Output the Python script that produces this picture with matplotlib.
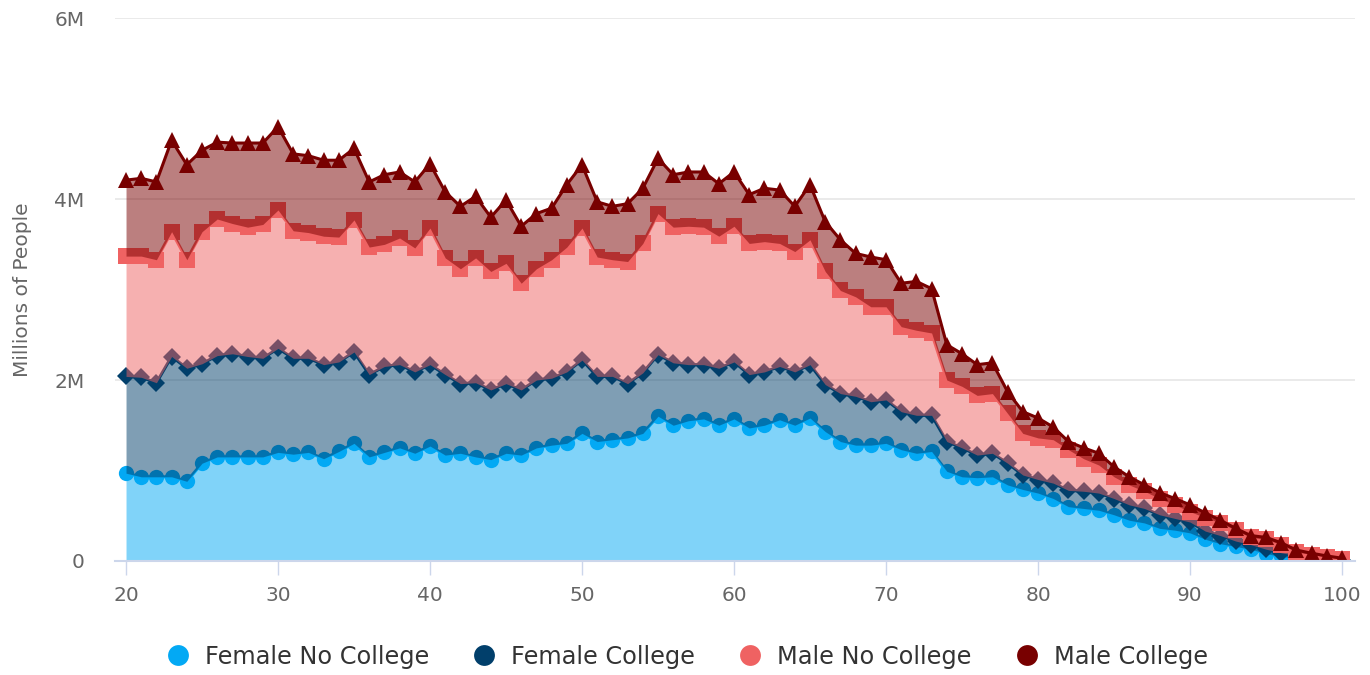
import numpy as np
import matplotlib
matplotlib.use("Agg")
import matplotlib.pyplot as plt
from matplotlib.lines import Line2D
from matplotlib.ticker import FuncFormatter

# --- dados (milhões de pessoas por idade) ---
ages = list(range(20, 101))

female_no_college = [
    0.97, 0.93, 0.93, 0.93, 0.88, 1.08, 1.15, 1.15, 1.15, 1.15,
    1.20, 1.18, 1.20, 1.13, 1.21, 1.30, 1.15, 1.20, 1.25, 1.19,
    1.27, 1.17, 1.19, 1.15, 1.12, 1.19, 1.17, 1.25, 1.28, 1.30,
    1.41, 1.32, 1.34, 1.36, 1.41, 1.60, 1.50, 1.55, 1.57, 1.50,
    1.57, 1.47, 1.50, 1.56, 1.50, 1.58, 1.43, 1.32, 1.28, 1.28,
    1.30, 1.23, 1.19, 1.21, 0.99, 0.93, 0.92, 0.93, 0.84, 0.79,
    0.75, 0.69, 0.60, 0.58, 0.56, 0.51, 0.45, 0.42, 0.36, 0.34,
    0.31, 0.24, 0.19, 0.16, 0.13, 0.08, 0.05, 0.03, 0.02, 0.01, 0.005,
]
female_college = [
    1.07, 1.10, 1.04, 1.33, 1.25, 1.10, 1.12, 1.14, 1.11, 1.09,
    1.15, 1.06, 1.04, 1.04, 0.99, 1.01, 0.91, 0.95, 0.92, 0.90,
    0.90, 0.89, 0.77, 0.82, 0.77, 0.77, 0.72, 0.75, 0.74, 0.79,
    0.81, 0.72, 0.70, 0.60, 0.67, 0.68, 0.69, 0.62, 0.60, 0.63,
    0.63, 0.59, 0.59, 0.59, 0.59, 0.59, 0.52, 0.53, 0.54, 0.48,
    0.48, 0.42, 0.42, 0.40, 0.33, 0.32, 0.25, 0.26, 0.24, 0.16,
    0.15, 0.17, 0.18, 0.19, 0.19, 0.18, 0.17, 0.16, 0.15, 0.13,
    0.12, 0.09, 0.09, 0.06, 0.05, 0.05, 0.04, 0.03, 0.015, 0.01, 0.005,
]
male_no_college = [
    1.33, 1.34, 1.36, 1.38, 1.20, 1.46, 1.51, 1.44, 1.43, 1.48,
    1.53, 1.41, 1.39, 1.42, 1.38, 1.46, 1.41, 1.35, 1.40, 1.37,
    1.51, 1.29, 1.27, 1.38, 1.31, 1.33, 1.18, 1.23, 1.31, 1.38,
    1.46, 1.32, 1.29, 1.35, 1.43, 1.56, 1.50, 1.53, 1.52, 1.46,
    1.50, 1.45, 1.44, 1.36, 1.33, 1.38, 1.25, 1.14, 1.10, 1.05,
    1.03, 0.94, 0.94, 0.91, 0.68, 0.68, 0.66, 0.66, 0.55, 0.46,
    0.46, 0.48, 0.45, 0.36, 0.31, 0.24, 0.22, 0.19, 0.18, 0.15,
    0.115, 0.15, 0.14, 0.12, 0.08, 0.11, 0.09, 0.04, 0.035, 0.025, 0.01,
]
male_college = [
    0.84, 0.86, 0.86, 1.01, 1.05, 0.90, 0.85, 0.89, 0.93, 0.90,
    0.92, 0.85, 0.85, 0.84, 0.85, 0.79, 0.72, 0.77, 0.73, 0.73,
    0.71, 0.73, 0.69, 0.68, 0.60, 0.70, 0.63, 0.61, 0.57, 0.69,
    0.70, 0.61, 0.59, 0.64, 0.61, 0.61, 0.58, 0.60, 0.61, 0.58,
    0.60, 0.54, 0.59, 0.59, 0.50, 0.61, 0.55, 0.56, 0.48, 0.55,
    0.52, 0.48, 0.54, 0.49, 0.39, 0.36, 0.34, 0.34, 0.24, 0.24,
    0.22, 0.14, 0.09, 0.12, 0.13, 0.11, 0.09, 0.07, 0.065, 0.07,
    0.075, 0.05, 0.03, 0.02, 0.02, 0.02, 0.02, 0.02, 0.015, 0.01, 0.01,
]

series_names = ["Female No College", "Female College", "Male No College", "Male College"]
series_colors = ["#03a9f4", "#013f6b", "#ef6262", "#780000"]
series_markers = ["o", "D", "s", "^"]
series_msize = [11, 9, 11, 11.5]

plt.rcParams['font.family'] = ['DejaVu Sans']

fig = plt.figure(figsize=(13.7, 6.75), dpi=100)
ax = fig.add_axes([0.084, 0.169, 0.905, 0.804])

stack = np.cumsum(np.array([female_no_college, female_college,
                            male_no_college, male_college]), axis=0)
base = np.zeros(len(ages))
for i, nome in enumerate(series_names):
    top = stack[i]
    cor = series_colors[i]
    z = 2 + i * 3
    ax.fill_between(ages, base, top, color=cor, alpha=0.5, lw=0, zorder=z)
    ax.plot(ages, top, color=cor, lw=2.2, zorder=z + 1,
            marker=series_markers[i], ms=series_msize[i], mec='none', mew=0)
    base = top

# eixos estilo highcharts
ax.set_xlim(19.28, 100.85)
ax.set_ylim(0, 6)
ax.set_yticks([0, 2, 4, 6])
ax.set_xticks(range(20, 101, 10))
ax.yaxis.set_major_formatter(FuncFormatter(lambda v, p: "0" if v == 0 else f"{v:.0f}M"))
ax.grid(axis='y', color='#e6e6e6', lw=1.2, zorder=0)
ax.set_axisbelow(True)
for s in ['top', 'right', 'left']:
    ax.spines[s].set_visible(False)
ax.spines['bottom'].set_color('#ccd6eb')
ax.spines['bottom'].set_linewidth(1.5)
ax.spines['bottom'].set_zorder(20)
ax.tick_params(axis='y', length=0, pad=22, labelsize=14.5, labelcolor='#666666')
ax.tick_params(axis='x', length=10, width=1, color='#ccd6eb', pad=8,
               labelsize=14.5, labelcolor='#666666')
ax.set_ylabel("Millions of People", fontsize=14.5, color='#666666', labelpad=16)

handles = [Line2D([0], [0], marker='o', ls='none', ms=15, color=c, mec='none')
           for c in series_colors]
fig.legend(handles, series_names, loc='center', bbox_to_anchor=(0.497, 0.027),
           ncol=4, frameon=False, fontsize=17.3, labelcolor='#333333',
           handletextpad=0.12, columnspacing=1.3)

fig.savefig("out.png", dpi=100)
